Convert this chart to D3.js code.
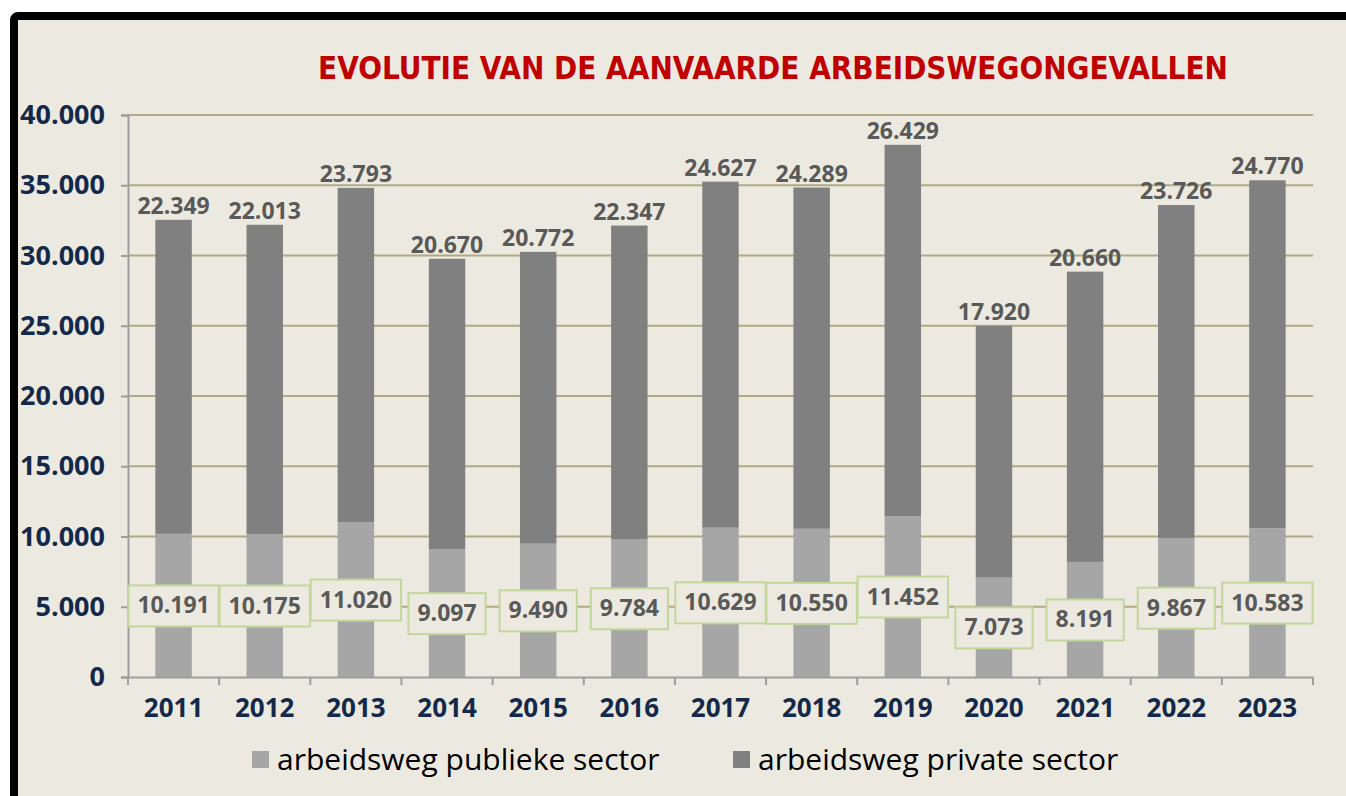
<!DOCTYPE html>
<html>
<head>
<meta charset="utf-8">
<script src="https://cdn.jsdelivr.net/npm/d3@7"></script>
<style>
  html, body { margin: 0; padding: 0; background: #ffffff; }
  svg { display: block; }
</style>
</head>
<body>
<div class="container"></div>
<script>
const w = 1346;
const h = 796;

// data
const years = ["2011","2012","2013","2014","2015","2016","2017","2018","2019","2020","2021","2022","2023"];
const publiek = [10191,10175,11020,9097,9490,9784,10629,10550,11452,7073,8191,9867,10583];
const privaat = [22349,22013,23793,20670,20772,22347,24627,24289,26429,17920,20660,23726,24770];
const yTicks = [0,5000,10000,15000,20000,25000,30000,35000,40000];
const seriesNames = ["arbeidsweg publieke sector","arbeidsweg private sector"];

const plot = {left: 128, right: 1313, top: 115, bottom: 677};
const colPub = "#a6a6a6";
const colPriv = "#808080";

const nl = d3.formatLocale({decimal: ",", thousands: ".", grouping: [3], currency: ["€", ""]});
const fmt = nl.format(",d");

const svg = d3.select(".container")
          .append("svg")
          .attr("width", w)
          .attr("height", h);

// frame
svg.append("rect")
   .attr("x", 14).attr("y", 16)
   .attr("width", w + 20).attr("height", h + 20)
   .attr("rx", 4)
   .attr("fill", "#eceae0")
   .attr("stroke", "#000")
   .attr("stroke-width", 8);

const title = svg.append("text")
   .attr("x", 773)
   .attr("y", 79)
   .attr("text-anchor", "middle")
   .attr("fill", "#c00000")
   .style("font-family", "'DejaVu Sans Condensed', 'DejaVu Sans', sans-serif")
   .style("font-weight", "bold")
   .style("font-size", "33px")
   .text("EVOLUTIE VAN DE AANVAARDE ARBEIDSWEGONGEVALLEN");
// shrink to the reference width if the font runs wider
const tLen = title.node().getComputedTextLength();
if (tLen > 910) title.style("font-size", (33 * 910 / tLen) + "px");

const xScale = d3.scaleBand()
                 .domain(years)
                 .range([plot.left, plot.right]);

const yScale = d3.scaleLinear()
                 .domain([0, 40000])
                 .range([plot.bottom, plot.top]);

// gridlines
svg.append("g")
   .selectAll("line")
   .data(yTicks.filter(d => d > 0))
   .enter()
   .append("line")
   .attr("x1", plot.left).attr("x2", plot.right)
   .attr("y1", d => yScale(d)).attr("y2", d => yScale(d))
   .attr("stroke", "#b0aa82")
   .attr("stroke-width", 2);

const barW = xScale.bandwidth() * 0.4;
const barX = d => xScale(d) + (xScale.bandwidth() - barW) / 2;

// public bars
svg.append("g").selectAll("rect")
   .data(years)
   .enter()
   .append("rect")
   .attr("x", d => barX(d))
   .attr("width", barW)
   .attr("y", (d, i) => yScale(publiek[i]))
   .attr("height", (d, i) => yScale(0) - yScale(publiek[i]))
   .attr("fill", colPub);

// private bars
svg.append("g").selectAll("rect")
   .data(years)
   .enter()
   .append("rect")
   .attr("x", d => barX(d))
   .attr("width", barW)
   .attr("y", (d, i) => yScale(publiek[i] + privaat[i]))
   .attr("height", (d, i) => yScale(publiek[i]) - yScale(publiek[i] + privaat[i]))
   .attr("fill", colPriv);

// y axis
const yAxis = d3.axisLeft(yScale).tickValues(yTicks).tickFormat(fmt).tickSize(7).tickPadding(16);
const gy = svg.append("g")
   .attr("transform", "translate(" + plot.left + ",0)")
   .call(yAxis);
gy.select(".domain").attr("stroke", "#9d9d9d").attr("stroke-width", 2);
gy.selectAll(".tick line").attr("stroke", "#9d9d9d").attr("stroke-width", 2);
gy.selectAll(".tick text")
  .attr("fill", "#14294a")
  .style("font-family", "'Open Sans', sans-serif")
  .style("font-weight", "bold")
  .style("font-size", "27px");

// x axis
const xAxis = d3.axisBottom(xScale).tickSize(0).tickPadding(22);
const gx = svg.append("g")
   .attr("transform", "translate(0," + plot.bottom + ")")
   .call(xAxis);
gx.select(".domain").attr("stroke", "#9d9d9d").attr("stroke-width", 2);
gx.selectAll(".tick text")
  .attr("fill", "#14294a")
  .style("font-family", "'Open Sans', sans-serif")
  .style("font-weight", "bold")
  .style("font-size", "26px");
gx.selectAll(".sep")
  .data(years.concat(["end"]))
  .enter()
  .append("line")
  .attr("x1", (d, i) => i < years.length ? xScale(d) : plot.right)
  .attr("x2", (d, i) => i < years.length ? xScale(d) : plot.right)
  .attr("y1", 0).attr("y2", 8)
  .attr("stroke", "#9d9d9d")
  .attr("stroke-width", 2);

// private labels on top
svg.append("g").selectAll("text")
   .data(years)
   .enter()
   .append("text")
   .attr("x", d => xScale(d) + xScale.bandwidth() / 2)
   .attr("y", (d, i) => yScale(publiek[i] + privaat[i]) - 6)
   .attr("text-anchor", "middle")
   .attr("fill", "#595959")
   .style("font-family", "'Open Sans', sans-serif")
   .style("font-weight", "bold")
   .style("font-size", "23px")
   .text((d, i) => fmt(privaat[i]));

// public labels in boxes
const boxes = svg.append("g").selectAll("g")
   .data(years)
   .enter()
   .append("g")
   .attr("transform", (d, i) => "translate(" + (xScale(d) + xScale.bandwidth() / 2) + "," + yScale(publiek[i] / 2) + ")");

boxes.append("rect").attr("class", "box");
boxes.append("text")
   .attr("text-anchor", "middle")
   .attr("y", 8)
   .attr("fill", "#595959")
   .style("font-family", "'Open Sans', sans-serif")
   .style("font-weight", "bold")
   .style("font-size", "23px")
   .text((d, i) => fmt(publiek[i]));
boxes.each(function() {
  const g = d3.select(this);
  const tw = g.select("text").node().getComputedTextLength();
  g.select("rect")
   .attr("x", -tw / 2 - 9).attr("width", tw + 18)
   .attr("y", -20).attr("height", 41)
   .attr("fill", "#eceae0")
   .attr("stroke", "#c3d69b")
   .attr("stroke-width", 2);
});

// legend
const legend = svg.append("g");
const legX = [252, 733];
seriesNames.forEach((name, i) => {
  legend.append("rect")
    .attr("x", legX[i]).attr("y", 751)
    .attr("width", 17).attr("height", 17)
    .attr("fill", i === 0 ? colPub : colPriv);
  legend.append("text")
    .attr("x", legX[i] + 25).attr("y", 770)
    .attr("fill", "#000")
    .style("font-family", "'Open Sans', sans-serif")
    .style("font-size", "30px")
    .text(name);
});
</script>
</body>
</html>
